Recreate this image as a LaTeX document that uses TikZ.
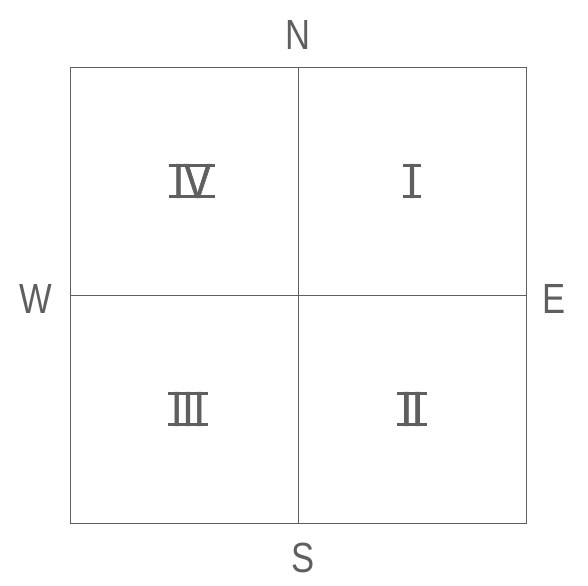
\documentclass[tikz,border=0pt]{standalone}
\usepackage{fontspec}
\setmainfont{Liberation Sans}
\newfontfamily\compassfont[FakeStretch=0.82]{Liberation Sans}
\newfontfamily\numeralfont[FakeStretch=0.82,FakeBold=1.2]{Liberation Sans}
\usetikzlibrary{positioning}
\definecolor{inkgray}{RGB}{95,95,95}
% roman numeral with joined top and bottom bars
\newcommand\barred[1]{\setbox0=\hbox{#1}\leavevmode
  \rlap{\kern-2.5pt\rule{\dimexpr\wd0+5pt}{2.2pt}}%
  \rlap{\kern-2.5pt\raisebox{\dimexpr\ht0-2.2pt}{\rule{\dimexpr\wd0+5pt}{2.2pt}}}\box0}
\begin{document}
\begin{tikzpicture}[quad/.style={draw=inkgray,line width=0.7pt,minimum size=5.7cm,inner sep=0pt,outer sep=0pt,text=inkgray,font=\numeralfont\fontsize{35}{38}\selectfont},
  compass/.style={inner sep=0pt,text=inkgray,font=\compassfont\fontsize{30}{36}\selectfont}]
  \useasboundingbox (0,0) rectangle (14.7,14.625);
  \node[quad] (q4) at (4.6,10.1) {\hspace*{0.4cm}\barred{IV}};
  \node[quad,right=0pt of q4] (q1) {\barred{I}};
  \node[quad,below=0pt of q4] (q3) {\hspace*{0.2cm}\barred{III}};
  \node[quad,right=0pt of q3] (q2) {\barred{II}};
  \node[compass,above=0.42cm of q4.north east] (n) {N};
  \node[compass,below=0.5cm of q3.south east,xshift=0.12cm] (s) {S};
  \node[compass,left=0.45cm of q4.south west,yshift=-0.1cm] (w) {W};
  \node[compass,right=0.4cm of q1.south east,yshift=-0.1cm] (e) {E};
\end{tikzpicture}
\end{document}
